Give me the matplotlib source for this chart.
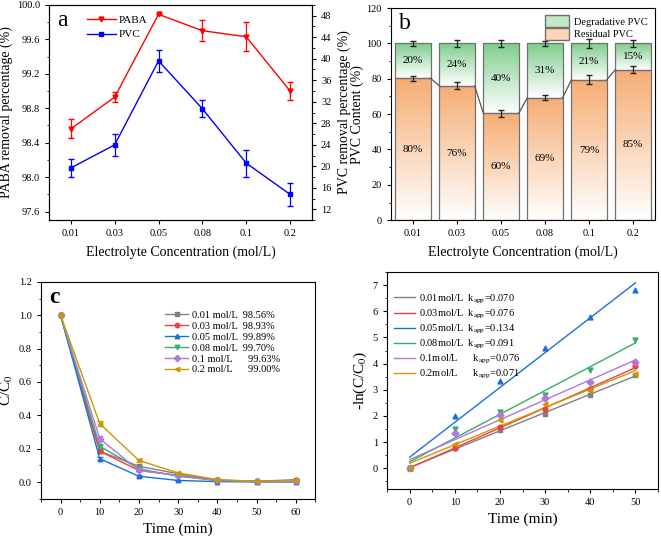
import numpy as np
import matplotlib
matplotlib.use("Agg")
import matplotlib.pyplot as plt
from matplotlib.colors import LinearSegmentedColormap
from matplotlib.patches import Patch
from matplotlib.lines import Line2D
from matplotlib.ticker import MultipleLocator

plt.rcParams['font.family'] = ['Liberation Serif', 'DejaVu Serif']
plt.rcParams['mathtext.fontset'] = 'stix'
plt.rcParams['font.size'] = 8
plt.rcParams['xtick.labelsize'] = 7.5
plt.rcParams['ytick.labelsize'] = 7.5
plt.rcParams['xtick.direction'] = 'out'
plt.rcParams['ytick.direction'] = 'out'
plt.rcParams['xtick.major.size'] = 3
plt.rcParams['ytick.major.size'] = 3
plt.rcParams['xtick.minor.size'] = 1.8
plt.rcParams['ytick.minor.size'] = 1.8

# ---- data ----
conc = ['0.01', '0.03', '0.05', '0.08', '0.1', '0.2']
paba = [98.56, 98.93, 99.89, 99.70, 99.63, 99.00]
paba_err = [0.11, 0.06, 0.0, 0.12, 0.17, 0.11]
pvc = [19.7, 24.0, 39.6, 30.7, 20.6, 14.8]
pvc_err = [1.6, 2.0, 2.1, 1.6, 2.5, 2.1]

residual = [80.3, 76.0, 60.4, 69.3, 79.4, 85.2]
residual_err = [1.5, 2.0, 2.0, 1.5, 2.5, 2.0]
top_err = [1.5, 2.0, 2.0, 1.2, 2.5, 2.0]
res_labels = ['80%', '76%', '60%', '69%', '79%', '85%']
deg_labels = ['20%', '24%', '40%', '31%', '21%', '15%']

time_c = [0, 10, 20, 30, 40, 50, 60]
cc0 = {
    '0.01': [1, 0.185, 0.095, 0.050, 0.012, 0.005, 0.0144],
    '0.03': [1, 0.185, 0.070, 0.040, 0.010, 0.004, 0.0107],
    '0.05': [1, 0.140, 0.035, 0.010, 0.003, 0.001, 0.0011],
    '0.08': [1, 0.215, 0.080, 0.035, 0.010, 0.003, 0.0030],
    '0.1': [1, 0.260, 0.070, 0.040, 0.010, 0.004, 0.0037],
    '0.2': [1, 0.350, 0.130, 0.055, 0.015, 0.005, 0.0100],
}
cc0_err = {
    '0.01': [0, 0.008, 0.006, 0.004, 0.002, 0.002, 0.003],
    '0.03': [0, 0.008, 0.006, 0.004, 0.002, 0.002, 0.003],
    '0.05': [0, 0.008, 0.005, 0.003, 0.002, 0.001, 0.001],
    '0.08': [0, 0.010, 0.006, 0.004, 0.002, 0.002, 0.002],
    '0.1': [0, 0.015, 0.006, 0.004, 0.002, 0.002, 0.002],
    '0.2': [0, 0.015, 0.008, 0.005, 0.002, 0.002, 0.003],
}
removal = ['98.56%', '98.93%', '99.89%', '99.70%', '99.63%', '99.00%']

time_d = [0, 10, 20, 30, 40, 50]
lnc = {
    '0.01': [0, 0.78, 1.46, 2.07, 2.78, 3.58],
    '0.03': [0, 0.79, 1.57, 2.27, 3.03, 3.89],
    '0.05': [0, 1.99, 3.35, 4.58, 5.79, 6.81],
    '0.08': [0, 1.51, 2.14, 2.81, 3.74, 4.90],
    '0.1': [0, 1.36, 2.03, 2.67, 3.28, 4.06],
    '0.2': [0, 0.91, 1.83, 2.45, 2.98, 3.60],
}
kapp = ['0.070', '0.076', '0.134', '0.091', '0.076', '0.071']

colors = ['#808080', '#F14040', '#1A6FDF', '#37AD6B', '#B177DE', '#CC9900']
markers = ['s', 'o', '^', 'v', 'D', '<']

fig = plt.figure(figsize=(6.61, 5.41), dpi=100)

# ---- panel a ----
ax1 = fig.add_axes([0.074, 0.593, 0.398, 0.398])
x = np.arange(len(conc))
ax1.errorbar(x, paba, yerr=paba_err, color='#ff0000', marker='v', ms=3.5,
             lw=1.0, capsize=2.5, elinewidth=0.9, label='PABA')
ax1.set_ylim(97.5, 100.0)
ax1.set_xlim(-0.5, 5.5)
ax1.yaxis.set_major_locator(MultipleLocator(0.4))
ax1.yaxis.set_minor_locator(MultipleLocator(0.2))
ax1.set_xticks(x)
ax1.set_xticklabels(conc)
ax1.set_ylabel('PABA removal percentage (%)', fontsize=10, labelpad=3)
ax1.set_xlabel('Electrolyte Concentration (mol/L)', fontsize=10, labelpad=5)
ax1.text(0.03, 0.975, 'a', transform=ax1.transAxes, fontsize=17, va='top')
ax1b = ax1.twinx()
ax1b.errorbar(x, pvc, yerr=pvc_err, color='#0000ff', marker='s', ms=3,
              lw=1.0, capsize=2.5, elinewidth=0.9, label='PVC')
ax1b.set_ylim(10, 50)
ax1b.set_yticks(np.arange(12, 49, 4))
ax1b.yaxis.set_minor_locator(MultipleLocator(2))
ax1b.set_ylabel('PVC removal percentage (%)', fontsize=10, labelpad=4)
h = [Line2D([], [], color='#ff0000', marker='v', ms=3.5, lw=1.0),
     Line2D([], [], color='#0000ff', marker='s', ms=3, lw=1.0)]
ax1.legend(h, ['PABA', 'PVC'], loc='upper left', bbox_to_anchor=(0.11, 0.995),
           frameon=False, fontsize=8, handlelength=2.6, borderpad=0.3,
           labelspacing=0.45, handletextpad=0.3)

# ---- panel b ----
ax2 = fig.add_axes([0.5915, 0.593, 0.3995, 0.392])
green_cm = LinearSegmentedColormap.from_list('g', ['#ffffff', '#7fcd8c'])
orange_cm = LinearSegmentedColormap.from_list('o', ['#ffffff', '#f6ad73'])
grad = np.linspace(0, 1, 256).reshape(-1, 1)
w = 0.8
for i, r in enumerate(residual):
    ax2.imshow(grad, cmap=orange_cm, origin='lower', aspect='auto',
               extent=[i - w / 2, i + w / 2, 0, r], zorder=1)
    ax2.imshow(grad, cmap=green_cm, origin='lower', aspect='auto',
               extent=[i - w / 2, i + w / 2, r, 100], zorder=1)
ax2.bar(x, residual, width=w, facecolor='none', edgecolor='#707070', lw=0.9, zorder=2)
ax2.bar(x, [100 - r for r in residual], bottom=residual, width=w,
        facecolor='none', edgecolor='#707070', lw=0.9, zorder=2)
for i in range(len(residual) - 1):
    ax2.plot([i + w / 2, i + 1 - w / 2], [residual[i], residual[i + 1]],
             color='#555555', lw=0.9, zorder=3)
ax2.errorbar(x, residual, yerr=residual_err, fmt='none', ecolor='#222222',
             capsize=2.5, elinewidth=0.9, zorder=4)
ax2.errorbar(x, [100] * len(x), yerr=top_err, fmt='none', ecolor='#222222',
             capsize=2.5, elinewidth=0.9, zorder=4)
for i, r in enumerate(residual):
    ax2.text(i, r / 2, res_labels[i], ha='center', va='center', fontsize=8)
    ax2.text(i, (r + 100) / 2, deg_labels[i], ha='center', va='center', fontsize=8)
ax2.set_xlim(-0.5, 5.5)
ax2.set_ylim(0, 120)
ax2.yaxis.set_major_locator(MultipleLocator(20))
ax2.yaxis.set_minor_locator(MultipleLocator(10))
ax2.set_xticks(x)
ax2.set_xticklabels(conc)
ax2.set_ylabel('PVC Content (%)', fontsize=10, labelpad=2)
ax2.set_xlabel('Electrolyte Concentration (mol/L)', fontsize=10, labelpad=5)
ax2.text(0.03, 0.975, 'b', transform=ax2.transAxes, fontsize=17, va='top')
leg_b = [Patch(facecolor='#c2e8c8', edgecolor='#707070', label='Degradative PVC'),
         Patch(facecolor='#fbd5b5', edgecolor='#707070', label='Residual PVC')]
ax2.legend(handles=leg_b, loc='upper right', bbox_to_anchor=(1.0, 1.0),
           frameon=False, fontsize=7.5, handlelength=2.3, handleheight=1.3,
           borderpad=0.2, labelspacing=0.15, handletextpad=0.5)

# ---- panel c ----
ax3 = fig.add_axes([0.062, 0.078, 0.415, 0.401])
handles_c = []
for j, k in enumerate(conc):
    ax3.errorbar(time_c, cc0[k], yerr=cc0_err[k], fmt='none', ecolor=colors[j],
                 capsize=2, elinewidth=0.8)
    ln, = ax3.plot(time_c, cc0[k], color=colors[j], marker=markers[j],
                   ms=3.2, lw=1.0,
                   label=f'{k} mol/L' + ('  ' if len(k) == 4 else '      ') + removal[j])
    handles_c.append(ln)
ax3.set_xlim(-5, 65)
ax3.set_ylim(-0.1, 1.2)
ax3.xaxis.set_major_locator(MultipleLocator(10))
ax3.xaxis.set_minor_locator(MultipleLocator(5))
ax3.yaxis.set_major_locator(MultipleLocator(0.2))
ax3.yaxis.set_minor_locator(MultipleLocator(0.1))
ax3.set_xlabel('Time (min)', fontsize=11, labelpad=4)
ax3.set_ylabel('C/C$_0$', fontsize=11, labelpad=3)
ax3.text(0.03, 0.975, 'c', transform=ax3.transAxes, fontsize=17, va='top',
         fontweight='bold')
ax3.legend(handles=handles_c, loc='upper right', bbox_to_anchor=(0.9, 0.9),
           frameon=False, fontsize=7.5, handlelength=2.2, labelspacing=0.15,
           borderpad=0.2, handletextpad=0.4)

# ---- panel d ----
ax4 = fig.add_axes([0.5855, 0.096, 0.41, 0.401])
for j, k in enumerate(conc):
    ax4.scatter(time_d, lnc[k], color=colors[j], marker=markers[j], s=12, zorder=3)
    slope, icpt = np.polyfit(time_d, lnc[k], 1)
    tt = np.array([time_d[0], time_d[-1]])
    ax4.plot(tt, slope * tt + icpt, color=colors[j], lw=1.0,
             label=f'{k}mol/L' + ('  ' if len(k) == 4 else '      ')
             + r'k$_{\mathrm{app}}$=' + kapp[j])
ax4.set_xlim(-5, 55)
ax4.set_ylim(-0.8, 7.5)
ax4.xaxis.set_major_locator(MultipleLocator(10))
ax4.xaxis.set_minor_locator(MultipleLocator(5))
ax4.yaxis.set_major_locator(MultipleLocator(1))
ax4.yaxis.set_minor_locator(MultipleLocator(0.5))
ax4.set_xlabel('Time (min)', fontsize=11, labelpad=4)
ax4.set_ylabel('-ln(C/C$_0$)', fontsize=11, labelpad=3)
ax4.legend(loc='upper left', bbox_to_anchor=(0.0, 0.94), frameon=False,
           fontsize=7.5, handlelength=2.0, labelspacing=0.2, borderpad=0.2,
           handletextpad=0.4)

fig.savefig('out.png', dpi=100)
